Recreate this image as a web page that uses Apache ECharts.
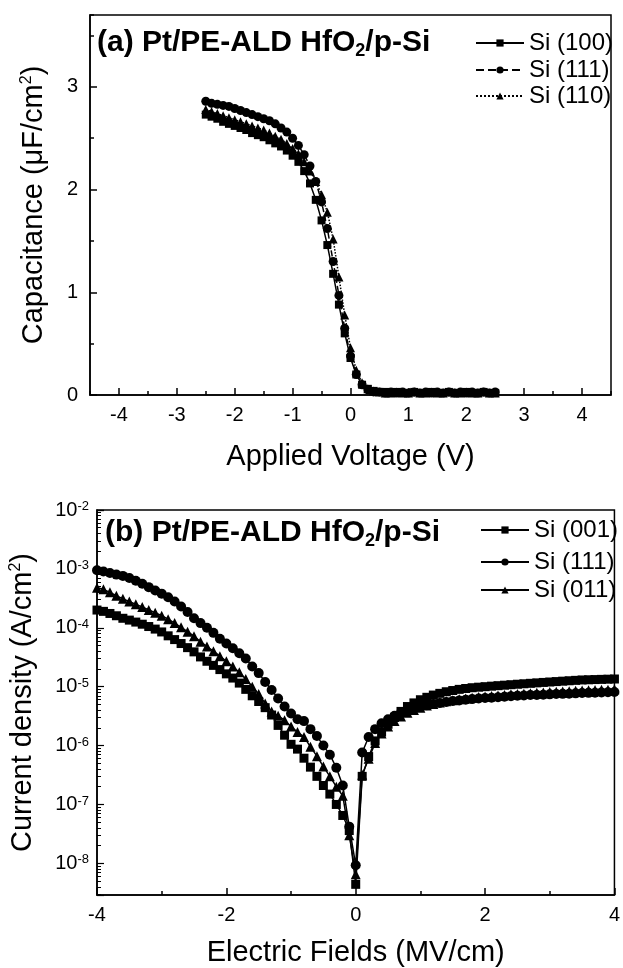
<!DOCTYPE html>
<html><head><meta charset="utf-8">
<script src="https://cdn.jsdelivr.net/npm/echarts@6/dist/echarts.min.js"></script>
<style>html,body{margin:0;padding:0;background:#fff}#c{width:623px;height:968px}</style>
</head><body><div id="c"></div>
<script>
// ---- (a) C-V data ----
const voltage = [-2.5,-2.4,-2.3,-2.2,-2.1,-2.0,-1.9,-1.8,-1.7,-1.6,-1.5,-1.4,-1.3,-1.2,-1.1,-1.0,-0.9,-0.8,-0.7,-0.6,-0.5,-0.4,-0.3,-0.2,-0.1,0.0,0.1,0.2,0.3,0.4,0.5,0.6,0.7,0.8,0.9,1.0,1.1,1.2,1.3,1.4,1.5,1.6,1.7,1.8,1.9,2.0,2.1,2.2,2.3,2.4,2.5];
const cap100 = [2.73,2.71,2.69,2.66,2.64,2.62,2.60,2.58,2.55,2.53,2.51,2.48,2.45,2.42,2.38,2.33,2.27,2.18,2.06,1.90,1.70,1.46,1.18,0.88,0.60,0.36,0.20,0.10,0.06,0.04,0.03,0.03,0.02,0.03,0.02,0.02,0.03,0.02,0.02,0.03,0.02,0.02,0.03,0.02,0.02,0.03,0.02,0.02,0.03,0.02,0.02];
const cap111 = [2.86,2.84,2.83,2.82,2.81,2.79,2.77,2.75,2.73,2.71,2.69,2.67,2.64,2.60,2.56,2.50,2.43,2.34,2.23,2.08,1.88,1.62,1.30,0.97,0.65,0.38,0.20,0.10,0.05,0.03,0.03,0.02,0.03,0.02,0.03,0.02,0.03,0.02,0.03,0.02,0.03,0.02,0.03,0.02,0.03,0.02,0.03,0.02,0.03,0.02,0.03];
const cap110 = [2.78,2.76,2.74,2.72,2.70,2.68,2.66,2.64,2.62,2.60,2.58,2.55,2.52,2.49,2.45,2.40,2.35,2.27,2.18,2.08,1.95,1.78,1.52,1.15,0.78,0.46,0.24,0.12,0.06,0.04,0.03,0.02,0.02,0.03,0.02,0.02,0.03,0.02,0.02,0.03,0.02,0.02,0.03,0.02,0.02,0.03,0.02,0.02,0.03,0.02,0.02];
const namesA = ['Si (100)','Si (111)','Si (110)'];

// ---- (b) J-E data ----
const field = [-4.0,-3.9,-3.8,-3.7,-3.6,-3.5,-3.4,-3.3,-3.2,-3.1,-3.0,-2.9,-2.8,-2.7,-2.6,-2.5,-2.4,-2.3,-2.2,-2.1,-2.0,-1.9,-1.8,-1.7,-1.6,-1.5,-1.4,-1.3,-1.2,-1.1,-1.0,-0.9,-0.8,-0.7,-0.6,-0.5,-0.4,-0.3,-0.2,-0.1,0.0,0.1,0.2,0.3,0.4,0.5,0.6,0.7,0.8,0.9,1.0,1.1,1.2,1.3,1.4,1.5,1.6,1.7,1.8,1.9,2.0,2.1,2.2,2.3,2.4,2.5,2.6,2.7,2.8,2.9,3.0,3.1,3.2,3.3,3.4,3.5,3.6,3.7,3.8,3.9,4.0];
const j001 = [2.0e-4,1.9e-4,1.75e-4,1.6e-4,1.45e-4,1.35e-4,1.25e-4,1.15e-4,1.05e-4,9.5e-5,8.5e-5,7.3e-5,6.3e-5,5.4e-5,4.6e-5,3.9e-5,3.2e-5,2.7e-5,2.3e-5,1.95e-5,1.65e-5,1.4e-5,1.15e-5,9.0e-6,7.0e-6,5.6e-6,4.4e-6,3.3e-6,2.2e-6,1.5e-6,1.05e-6,8.7e-7,6.1e-7,4.3e-7,3.0e-7,2.1e-7,1.5e-7,1.0e-7,6.5e-8,3.6e-8,4.4e-9,3.0e-7,6.5e-7,1.2e-6,1.7e-6,2.3e-6,3.0e-6,3.8e-6,4.6e-6,5.3e-6,6.0e-6,6.6e-6,7.2e-6,7.7e-6,8.2e-6,8.6e-6,9.0e-6,9.3e-6,9.6e-6,9.8e-6,1.0e-5,1.02e-5,1.04e-5,1.06e-5,1.08e-5,1.1e-5,1.12e-5,1.14e-5,1.16e-5,1.18e-5,1.2e-5,1.22e-5,1.24e-5,1.26e-5,1.28e-5,1.3e-5,1.31e-5,1.32e-5,1.33e-5,1.34e-5,1.35e-5];
const j111 = [9.5e-4,9.0e-4,8.5e-4,8.0e-4,7.6e-4,7.0e-4,6.3e-4,5.6e-4,4.9e-4,4.3e-4,3.8e-4,3.3e-4,2.8e-4,2.3e-4,1.85e-4,1.45e-4,1.2e-4,1.0e-4,8.2e-5,6.5e-5,5.4e-5,4.5e-5,3.7e-5,3.0e-5,2.2e-5,1.7e-5,1.2e-5,8.8e-6,6.3e-6,4.6e-6,3.5e-6,2.8e-6,2.6e-6,1.9e-6,1.45e-6,1.0e-6,7.0e-7,4.2e-7,2.1e-7,4.2e-8,9.3e-9,7.6e-7,1.4e-6,1.9e-6,2.4e-6,2.8e-6,3.2e-6,3.6e-6,4.0e-6,4.3e-6,4.6e-6,4.85e-6,5.1e-6,5.3e-6,5.5e-6,5.7e-6,5.85e-6,6.0e-6,6.15e-6,6.3e-6,6.4e-6,6.5e-6,6.6e-6,6.75e-6,6.9e-6,7.0e-6,7.1e-6,7.2e-6,7.25e-6,7.3e-6,7.4e-6,7.5e-6,7.55e-6,7.6e-6,7.7e-6,7.8e-6,7.85e-6,7.9e-6,8.0e-6,8.05e-6,8.1e-6];
const j011 = [4.8e-4,4.5e-4,4.0e-4,3.5e-4,3.1e-4,2.8e-4,2.5e-4,2.25e-4,2.0e-4,1.8e-4,1.6e-4,1.4e-4,1.2e-4,1.02e-4,8.6e-5,7.2e-5,5.8e-5,4.8e-5,4.0e-5,3.3e-5,2.7e-5,2.2e-5,1.75e-5,1.35e-5,1.0e-5,7.5e-6,5.2e-6,3.8e-6,3.2e-6,2.7e-6,2.1e-6,1.7e-6,1.4e-6,9.5e-7,6.6e-7,4.4e-7,3.0e-7,2.0e-7,1.4e-7,3.0e-8,6.5e-9,3.2e-7,6.0e-7,1.1e-6,1.6e-6,2.1e-6,2.6e-6,3.1e-6,3.6e-6,4.0e-6,4.4e-6,4.8e-6,5.1e-6,5.4e-6,5.65e-6,5.9e-6,6.1e-6,6.3e-6,6.5e-6,6.65e-6,6.8e-6,6.95e-6,7.1e-6,7.25e-6,7.4e-6,7.5e-6,7.6e-6,7.75e-6,7.85e-6,7.95e-6,8.1e-6,8.2e-6,8.3e-6,8.4e-6,8.5e-6,8.6e-6,8.7e-6,8.8e-6,8.85e-6,8.9e-6,9.0e-6];
const namesB = ['Si (001)','Si (111) ','Si (011)'];

const FONT = "'Liberation Sans', Arial, sans-serif";
const BLACK = '#000';
const pairs = (xs, ys) => xs.map((x, i) => [x, ys[i]]);

const chart = echarts.init(document.getElementById('c'), null, {renderer: 'canvas'});

const axisLineStyle = {show: true, onZero: false, lineStyle: {color: BLACK, width: 1.5}};
const tickLabel = {color: BLACK, fontFamily: FONT, fontSize: 20};
const nameStyle = {color: BLACK, fontFamily: FONT, fontSize: 29,
  rich: {sup: {fontSize: 16, fontFamily: FONT, color: BLACK, verticalAlign: 'top', lineHeight: 16}}};
const supRich = {sup: {fontSize: 13, fontFamily: FONT, color: BLACK, verticalAlign: 'top', lineHeight: 13}};
const titleStyle = {color: BLACK, fontFamily: FONT, fontSize: 30, fontWeight: 'bold', lineHeight: 34,
  rich: {sub: {fontSize: 18, fontWeight: 'bold', fontFamily: FONT, color: BLACK, verticalAlign: 'bottom', lineHeight: 18}}};

function lineSeries(name, data, symbol, size, type, xi, yi) {
  return {
    type: 'line', name, data, xAxisIndex: xi, yAxisIndex: yi,
    symbol, symbolSize: size, showAllSymbol: true,
    itemStyle: {color: BLACK},
    lineStyle: {color: BLACK, width: 1.5, type},
    emphasis: {disabled: true}, animation: false, z: 3
  };
}

function legendItem(name, left, top) {
  return {
    data: [name], left, top, orient: 'horizontal', padding: 0,
    itemWidth: 48, itemHeight: 9, itemGap: 6, selectedMode: false,
    textStyle: {color: BLACK, fontFamily: FONT, fontSize: 24}
  };
}

const option = {
  animation: false,
  backgroundColor: '#fff',
  title: [
    {text: '(a) Pt/PE-ALD HfO{sub|2}/p-Si', left: 97, top: 26, padding: 0, textStyle: titleStyle},
    {text: '(b) Pt/PE-ALD HfO{sub|2}/p-Si', left: 105, top: 516, padding: 0, textStyle: titleStyle}
  ],
  legend: [
    legendItem(namesA[0], 475, 31),
    legendItem(namesA[1], 475, 58),
    legendItem(namesA[2], 475, 84),
    legendItem(namesB[0], 480, 518),
    legendItem(namesB[1], 480, 550),
    legendItem(namesB[2], 480, 578)
  ],
  grid: [
    {left: 90, top: 15, width: 521, height: 380, show: true, borderColor: BLACK, borderWidth: 1.5, containLabel: false},
    {left: 95, top: 510, width: 529, height: 387, show: true, borderColor: BLACK, borderWidth: 1.5, containLabel: false}
  ],
  xAxis: [
    {gridIndex: 0, type: 'value', position: 'bottom', min: -4.5, max: 4.5, splitNumber: 9,
     axisLine: axisLineStyle, axisTick: {show: true, inside: true, length: 7, lineStyle: {color: BLACK, width: 1.5}},
     axisLabel: Object.assign({margin: 10, showMinLabel: false, showMaxLabel: false}, tickLabel),
     splitLine: {show: false},
     name: 'Applied Voltage (V)', nameLocation: 'middle', nameGap: 47, nameTextStyle: nameStyle},
    {gridIndex: 0, type: 'value', position: 'bottom', min: -4.5, max: 4.5, interval: 0.5,
     axisLine: {show: false, onZero: false}, axisTick: {show: true, inside: true, length: 4, lineStyle: {color: BLACK, width: 1.5}},
     axisLabel: {show: false}, splitLine: {show: false}},
    {gridIndex: 1, type: 'value', position: 'bottom', min: -4, max: 4, interval: 2,
     axisLine: axisLineStyle, axisTick: {show: true, inside: true, length: 7, lineStyle: {color: BLACK, width: 1.5}},
     minorTick: {show: true, splitNumber: 2, length: 4, lineStyle: {color: BLACK, width: 1.5}},
     axisLabel: Object.assign({margin: 10}, tickLabel),
     splitLine: {show: false}, minorSplitLine: {show: false},
     name: 'Electric Fields (MV/cm)', nameLocation: 'middle', nameGap: 43, nameTextStyle: nameStyle}
  ],
  yAxis: [
    {gridIndex: 0, type: 'value', position: 'left', min: 0, max: 3.7, interval: 1,
     axisLine: axisLineStyle, axisTick: {show: true, inside: true, length: 7, lineStyle: {color: BLACK, width: 1.5}},
     axisLabel: Object.assign({margin: 12, showMaxLabel: false}, tickLabel),
     splitLine: {show: false},
     name: 'Capacitance (\u03bcF/cm{sup|2})', nameLocation: 'middle', nameGap: 42, nameRotate: 90, nameTextStyle: nameStyle},
    {gridIndex: 0, type: 'value', position: 'left', min: 0, max: 3.7, interval: 0.5,
     axisLine: {show: false, onZero: false}, axisTick: {show: true, inside: true, length: 4, lineStyle: {color: BLACK, width: 1.5}},
     axisLabel: {show: false}, splitLine: {show: false}},
    {gridIndex: 1, type: 'log', logBase: 10, position: 'left', min: 2.9e-9, max: 1e-2, splitNumber: 7,
     axisLine: axisLineStyle, axisTick: {show: true, inside: true, length: 7, lineStyle: {color: BLACK, width: 1.2}},
     minorTick: {show: true, splitNumber: 9, length: 4, lineStyle: {color: BLACK, width: 1}},
     axisLabel: {margin: 8, showMinLabel: false, color: BLACK, fontFamily: FONT, fontSize: 20, rich: supRich,
       formatter: v => '10{sup|' + Math.round(Math.log10(v)) + '}'},
     splitLine: {show: false}, minorSplitLine: {show: false},
     name: 'Current density (A/cm{sup|2})', nameLocation: 'middle', nameGap: 60, nameRotate: 90, nameTextStyle: nameStyle}
  ],
  series: [
    lineSeries(namesA[0], pairs(voltage, cap100), 'rect', 8, 'solid', 0, 0),
    lineSeries(namesA[1], pairs(voltage, cap111), 'circle', 9, 'dashed', 0, 0),
    lineSeries(namesA[2], pairs(voltage, cap110), 'triangle', 9, 'dotted', 0, 0),
    lineSeries(namesB[0], pairs(field, j001), 'rect', 9, 'solid', 2, 2),
    lineSeries(namesB[1], pairs(field, j111), 'circle', 10, 'solid', 2, 2),
    lineSeries(namesB[2], pairs(field, j011), 'triangle', 10, 'solid', 2, 2)
  ]
};
chart.setOption(option);
</script>
</body></html>
